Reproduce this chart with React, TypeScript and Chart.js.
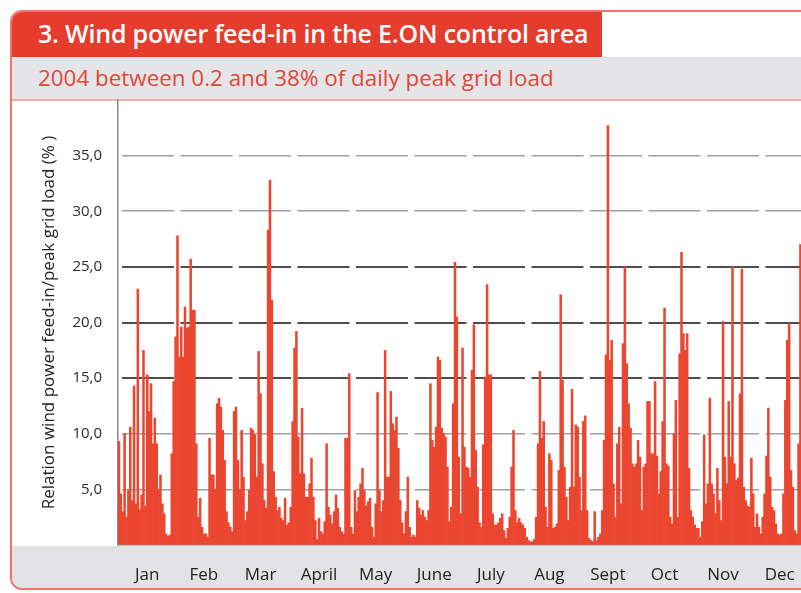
import React, { useEffect, useRef } from 'react';
import { Chart, registerables } from 'chart.js';

Chart.register(...registerables);

const TITLE = '3. Wind power feed-in in the E.ON control area';
const SUBTITLE = '2004 between 0.2 and 38% of daily peak grid load';
const Y_TITLE = 'Relation wind power feed-in/peak grid load (% )';

const MONTHS = ['Jan', 'Feb', 'Mar', 'April', 'May', 'June', 'July', 'Aug', 'Sept', 'Oct', 'Nov', 'Dec'];

// Daily wind feed-in as % of daily peak grid load, 2004
const JAN = [9.3, 4.6, 3.0, 10.0, 2.5, 4.9, 10.6, 4.0, 14.3, 3.7, 23.0, 3.2, 4.5, 17.5, 3.5, 15.3, 12.0, 14.5, 9.1, 11.4, 9.1, 5.0, 6.3, 3.7, 2.8, 1.0, 0.8, 0.9, 8.2, 14.7, 18.7];
const FEB = [27.8, 16.9, 19.6, 16.9, 21.4, 19.5, 19.6, 25.7, 21.1, 21.1, 9.1, 2.5, 4.2, 1.6, 1.0, 1.0, 0.7, 9.6, 6.3, 6.3, 5.0, 12.7, 13.2, 12.4, 10.3, 7.6, 3.0, 2.0, 1.6];
const MAR = [1.2, 12.0, 12.4, 7.6, 5.0, 10.3, 6.1, 2.2, 3.0, 4.9, 10.5, 10.3, 9.9, 6.1, 17.4, 13.6, 7.3, 4.0, 3.3, 28.3, 32.8, 22.0, 6.6, 4.3, 3.1, 3.4, 2.4, 2.2, 4.2, 1.8, 2.0];
const APR = [3.4, 11.1, 17.7, 19.2, 9.7, 6.4, 12.3, 6.4, 4.3, 4.3, 5.5, 7.8, 4.3, 2.2, 0.5, 2.4, 1.2, 1.0, 2.1, 9.1, 3.4, 2.7, 1.9, 3.0, 4.5, 3.3, 1.6, 1.2, 1.0, 9.6];
const MAY = [9.6, 15.4, 1.6, 1.0, 4.9, 3.0, 4.3, 5.5, 6.9, 4.9, 3.5, 3.9, 4.2, 1.6, 0.7, 3.7, 13.7, 4.9, 3.0, 4.0, 17.5, 6.1, 6.1, 13.8, 10.9, 10.3, 11.5, 8.7, 4.0, 2.0, 1.0];
const JUN = [3.0, 6.1, 1.6, 0.7, 0.9, 0.7, 4.0, 3.3, 2.7, 3.1, 2.5, 2.2, 3.1, 14.5, 9.4, 8.8, 10.6, 16.9, 16.6, 10.5, 10.0, 9.7, 7.0, 2.1, 3.4, 12.7, 25.4, 20.5, 7.9, 2.8];
const JUL = [17.7, 8.8, 7.0, 6.9, 6.1, 15.7, 19.8, 8.5, 5.2, 2.0, 1.6, 9.0, 15.1, 23.4, 15.3, 15.3, 2.8, 1.8, 1.8, 2.0, 2.4, 2.8, 1.3, 0.6, 1.5, 2.5, 7.0, 10.3, 3.1, 2.0, 2.4];
const AUG = [2.0, 1.8, 1.5, 0.7, 0.4, 0.3, 0.3, 0.5, 2.5, 9.1, 15.6, 9.6, 11.1, 3.4, 1.6, 8.2, 7.6, 1.5, 1.6, 1.9, 6.7, 22.5, 14.8, 7.0, 4.3, 2.2, 5.2, 14.0, 5.2, 10.8, 10.6];
const SEP = [6.1, 3.1, 11.1, 11.6, 3.1, 0.6, 0.4, 0.3, 3.0, 0.4, 0.7, 1.0, 3.1, 9.4, 17.1, 37.7, 16.6, 18.4, 5.5, 2.5, 9.1, 10.6, 3.7, 18.1, 25.0, 16.3, 12.7, 10.5, 7.3, 7.0];
const OCT = [7.3, 9.4, 7.9, 3.1, 7.0, 7.3, 12.9, 12.9, 8.2, 8.2, 14.7, 8.0, 4.6, 6.6, 11.1, 21.3, 7.3, 7.1, 2.5, 1.9, 10.0, 13.0, 2.5, 17.2, 26.3, 19.0, 17.5, 19.0, 6.9, 3.1, 2.5];
const NOV = [1.8, 1.5, 1.5, 0.7, 2.1, 9.9, 3.7, 5.5, 13.2, 5.5, 4.6, 2.8, 6.9, 4.0, 2.2, 20.1, 7.9, 5.5, 12.9, 7.9, 25.0, 7.3, 5.8, 6.0, 13.6, 24.8, 5.2, 4.0, 3.5, 3.4];
const DEC = [7.8, 4.6, 1.6, 2.8, 1.6, 1.0, 2.5, 4.6, 8.0, 12.3, 6.1, 3.4, 3.1, 1.9, 1.0, 0.9, 1.0, 4.6, 13.0, 18.4, 19.9, 6.7, 5.2, 1.3, 1.0, 9.1, 27.0, 20.0, 12.0, 8.0, 5.0];

const Y_MIN = 0;
const Y_MAX = 40;
const Y_STEP = 5;
const DARK_GRID_VALUES = [15, 20, 25];

const MONTHLY = [JAN, FEB, MAR, APR, MAY, JUN, JUL, AUG, SEP, OCT, NOV, DEC];

export default function App() {
  const canvasRef = useRef<HTMLCanvasElement | null>(null);

  useEffect(() => {
    const values: number[] = [];
    const labels: string[] = [];
    const tickText: string[] = [];
    MONTHLY.forEach((arr, m) => {
      const mid = Math.floor(arr.length / 2);
      arr.forEach((v, d) => {
        values.push(v);
        labels.push(`${MONTHS[m]} ${d + 1}`);
        tickText.push(d === mid ? MONTHS[m] : '');
      });
    });

    const canvas = canvasRef.current!;
    const chart = new Chart(canvas, {
      type: 'bar',
      data: {
        labels,
        datasets: [
          {
            data: values,
            backgroundColor: '#ea4630',
            borderWidth: 0,
            barPercentage: 1,
            categoryPercentage: 1,
          },
        ],
      },
      options: {
        animation: false,
        responsive: false,
        devicePixelRatio: 1,
        layout: { padding: { left: 10, right: 2, top: 100, bottom: 3 } },
        plugins: { legend: { display: false }, tooltip: { enabled: false } },
        scales: {
          x: {
            afterFit: (s: any) => {
              s.height = 45;
            },
            grid: { display: false },
            border: { display: true, color: '#8c8c8c', width: 1.5 },
            ticks: {
              autoSkip: false,
              maxRotation: 0,
              minRotation: 0,
              padding: 12,
              color: '#222',
              font: { family: '"Open Sans", sans-serif', size: 17 },
              callback: (_v: any, i: number) => tickText[i],
            },
          },
          y: {
            min: Y_MIN,
            max: Y_MAX,
            afterFit: (s: any) => {
              s.width = 108;
            },
            title: {
              display: true,
              text: Y_TITLE,
              color: '#222',
              font: { family: '"Open Sans", sans-serif', size: 17 },
              padding: { top: 29, bottom: 0 },
            },
            grid: {
              drawTicks: false,
              color: (ctx: any) => {
                const v = ctx.tick ? ctx.tick.value : null;
                if (v === Y_MIN || v === Y_MAX) return 'rgba(0,0,0,0)';
                return DARK_GRID_VALUES.includes(v) ? '#4d4d4d' : '#a0a0a0';
              },
              lineWidth: (ctx: any) => {
                const v = ctx.tick ? ctx.tick.value : null;
                return DARK_GRID_VALUES.includes(v) ? 2 : 1.6;
              },
            },
            border: { display: true, color: '#8c8c8c', width: 1.5, dash: [52, 6.5], dashOffset: -3.5 },
            ticks: {
              stepSize: Y_STEP,
              padding: 16,
              color: '#2a2a2a',
              font: { family: '"Open Sans", sans-serif', size: 15 },
              callback: (v: any) => (v === Y_MIN || v === Y_MAX ? '' : Number(v).toFixed(1).replace('.', ',')),
            },
          },
        },
      },
    });
    return () => chart.destroy();
  }, []);

  return (
    <div
      style={{
        position: 'fixed',
        left: 0,
        top: 0,
        width: 801,
        height: 593,
        overflow: 'hidden',
        background: '#ffffff',
        fontFamily: '"Open Sans", sans-serif',
      }}
    >
      <div
        style={{
          position: 'absolute',
          left: 10,
          top: 10,
          width: 840,
          height: 580,
          border: '2px solid #ee7468',
          borderRadius: 12,
          boxSizing: 'border-box',
          overflow: 'hidden',
          background: '#fff',
        }}
      >
        <div
          style={{
            position: 'absolute',
            left: 0,
            top: 0,
            width: 590,
            height: 45,
            background: '#e63c2d',
            color: '#fff',
            fontWeight: 600,
            fontSize: 25,
            lineHeight: '43px',
            paddingLeft: 26,
            boxSizing: 'border-box',
            whiteSpace: 'nowrap',
            letterSpacing: -0.2,
          }}
        >
          {TITLE}
        </div>
        <div
          style={{
            position: 'absolute',
            left: 0,
            top: 45,
            width: 840,
            height: 44,
            background: '#e5e5e7',
            color: '#e2473a',
            fontSize: 22.4,
            lineHeight: '42px',
            paddingLeft: 26,
            boxSizing: 'border-box',
            borderBottom: '2px solid #f0b0a8',
            whiteSpace: 'nowrap',
          }}
        >
          {SUBTITLE}
        </div>
        <div
          style={{
            position: 'absolute',
            left: 0,
            top: 534,
            width: 840,
            height: 50,
            background: '#e3e3e5',
          }}
        />
      </div>
      <canvas ref={canvasRef} width={820} height={593} style={{ position: 'absolute', left: 0, top: 0 }} />
    </div>
  );
}
